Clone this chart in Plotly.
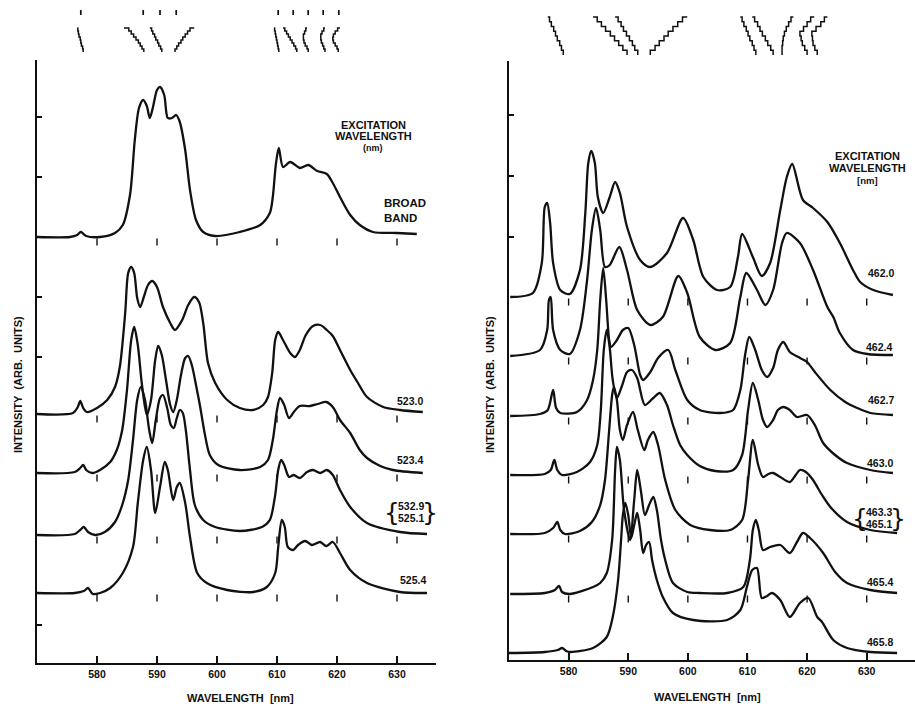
import plotly.graph_objects as go

W, H = 915, 708
FONT = "Liberation Sans"

# ---------------- shared scale values ----------------
axis_ticks_nm = [580, 590, 600, 610, 620, 630]
mark_nm = [580, 590, 600, 610, 620, 630]          # small wavelength marks under each trace
left_ytick_vals = [38, 306, 366, 426, 486, 546]
right_ytick_vals = [423, 484, 545]

# ---------------- LEFT PANEL (intensity, arb. units) ----------------
l_broad_nm = [570.0, 575.5, 576.7, 577.3, 578.2, 580.5, 583.0, 584.3, 585.5, 586.3,
              587.0, 587.7, 588.3, 588.8, 589.3, 590.0, 590.5, 591.2, 591.8, 592.5,
              593.2, 593.8, 594.7, 595.5, 596.5, 597.7, 599.7, 603.8, 607.2, 608.8,
              609.3, 609.8, 610.3, 611.0, 612.2, 613.8, 615.2, 616.7, 618.3, 619.3,
              620.5, 622.2, 623.8, 626.0, 630.0, 633.3]
l_broad_int = [426, 426, 428, 431, 427, 426, 430, 438, 468, 523,
               555, 563, 557, 545, 555, 573, 576, 568, 545, 545,
               548, 541, 513, 473, 443, 431, 427, 431, 438, 450,
               466, 498, 515, 496, 501, 495, 498, 492, 489, 480,
               466, 448, 438, 431, 430, 429]

l_5230_nm = [570.0, 576.0, 576.8, 577.2, 577.7, 578.3, 580.0, 581.7, 583.0, 583.8,
             584.7, 585.2, 585.7, 586.2, 586.7, 587.2, 587.8, 588.5, 589.2, 590.0,
             591.0, 592.2, 593.0, 594.2, 595.2, 596.2, 597.0, 597.7, 598.5, 599.7,
             601.7, 603.8, 606.0, 607.7, 608.5, 609.2, 609.7, 610.2, 611.0, 612.2,
             613.0, 613.8, 614.8, 616.0, 617.2, 618.3, 619.3, 620.5, 622.2, 623.5,
             625.0, 627.7, 630.5, 634.3]
l_5230_int = [249, 250, 256, 262, 255, 251, 255, 263, 276, 296,
              350, 390, 396, 390, 365, 356, 366, 378, 382, 376,
              356, 340, 333, 343, 358, 366, 361, 340, 300, 280,
              263, 255, 253, 258, 266, 290, 323, 331, 323, 310,
              306, 313, 328, 337, 338, 333, 327, 313, 293, 280,
              266, 256, 253, 251]

l_5234_nm = [570.0, 576.3, 577.2, 577.7, 578.2, 579.2, 580.5, 582.2, 583.3, 584.2,
             585.0, 585.7, 586.2, 586.8, 587.5, 588.3, 589.0, 589.7, 590.2, 590.8,
             591.5, 592.2, 592.7, 593.3, 594.0, 594.7, 595.2, 595.8, 596.5, 597.2,
             598.0, 598.8, 600.2, 603.8, 607.2, 608.5, 609.3, 610.0, 610.5, 611.2,
             612.0, 612.8, 613.8, 615.5, 616.8, 618.2, 619.3, 620.5, 622.2, 623.8,
             625.0, 627.2, 629.3, 634.3]
l_5234_int = [190, 191, 195, 198, 193, 190, 193, 201, 213, 233,
              273, 323, 336, 318, 278, 248, 263, 303, 317, 308,
              283, 258, 251, 263, 288, 305, 307, 298, 278, 256,
              228, 208, 198, 193, 196, 203, 223, 253, 265, 258,
              245, 251, 257, 257, 259, 261, 256, 243, 230, 213,
              205, 197, 193, 190]

l_5329_nm = [570.0, 576.3, 577.2, 577.8, 578.5, 579.7, 581.3, 583.0, 584.2, 585.2,
             586.0, 586.7, 587.3, 588.0, 588.7, 589.2, 589.8, 590.5, 591.0, 591.7,
             592.3, 592.8, 593.3, 593.8, 594.3, 594.8, 595.5, 596.3, 597.7, 599.7,
             603.8, 607.5, 608.8, 609.7, 610.2, 610.7, 611.2, 612.0, 612.8, 613.8,
             615.0, 616.0, 617.2, 618.3, 619.3, 620.5, 622.2, 625.0, 630.5, 635.0]
l_5329_int = [128, 129, 133, 136, 131, 128, 131, 141, 158, 183,
              223, 263, 276, 263, 233, 220, 243, 265, 268, 255,
              238, 235, 245, 253, 250, 233, 193, 158, 143, 136,
              132, 136, 143, 168, 193, 203, 198, 186, 188, 185,
              191, 193, 190, 193, 188, 173, 156, 140, 131, 129]

l_5254_nm = [570.0, 576.3, 577.8, 578.5, 579.3, 580.5, 582.2, 584.3, 586.0, 586.8,
             587.7, 588.3, 589.0, 589.7, 590.5, 591.3, 591.8, 592.7, 593.3, 593.8,
             594.7, 595.5, 596.7, 598.3, 601.7, 606.0, 608.3, 609.7, 610.2, 610.8,
             611.3, 611.8, 612.7, 613.5, 614.7, 615.8, 617.2, 618.2, 619.3, 620.5,
             622.2, 625.0, 630.5, 635.0]
l_5254_int = [70, 70, 72, 75, 69, 70, 75, 90, 116, 160,
              203, 216, 193, 150, 176, 201, 193, 163, 176, 180,
              160, 126, 90, 80, 73, 71, 76, 90, 116, 143,
              136, 116, 113, 118, 122, 118, 121, 117, 121, 110,
              93, 80, 71, 70]

# ---------------- RIGHT PANEL ----------------
r_4620_nm = [570.2, 574.0, 575.5, 576.0, 576.4, 576.9, 577.4, 578.6, 580.2, 581.9,
             582.8, 583.3, 583.8, 584.4, 584.9, 585.8, 586.9, 587.8, 588.6, 589.8,
             592.0, 593.7, 596.5, 599.2, 600.9, 602.6, 604.9, 607.1, 608.4, 609.1,
             610.9, 612.4, 613.8, 615.5, 616.6, 617.5, 619.3, 621.0, 623.4, 625.5,
             627.7, 628.9, 631.1, 634.4]
r_4620_int = [363, 367, 397, 453, 457, 437, 397, 370, 366, 390,
              447, 497, 509, 497, 463, 447, 463, 478, 467, 433,
              400, 393, 407, 442, 420, 383, 370, 373, 403, 426,
              403, 384, 397, 450, 483, 496, 460, 452, 438, 417,
              390, 378, 370, 365]

r_4624_nm = [570.2, 575.2, 576.4, 576.7, 577.0, 577.4, 578.6, 580.2, 581.9, 583.1,
             583.9, 584.6, 585.3, 586.1, 586.9, 588.5, 589.8, 591.5, 593.7, 595.8,
             598.4, 599.9, 602.0, 604.6, 607.1, 608.8, 609.8, 611.6, 613.0, 614.3,
             615.8, 616.6, 618.8, 621.0, 623.4, 624.4, 625.5, 627.7, 630.1, 634.4]
r_4624_int = [304, 310, 330, 360, 363, 330, 310, 306, 330, 380,
              430, 452, 430, 393, 395, 413, 390, 350, 335, 343,
              384, 367, 323, 310, 317, 363, 387, 370, 355, 370,
              417, 427, 417, 390, 353, 343, 327, 310, 306, 305]

r_4627_nm = [570.2, 575.2, 576.5, 577.4, 577.9, 578.6, 581.4, 583.1, 584.1, 584.8,
             585.3, 585.8, 586.3, 586.8, 587.1, 588.1, 589.1, 590.0, 591.0, 592.0,
             592.5, 593.7, 595.0, 596.7, 597.9, 599.9, 602.0, 605.4, 607.6, 608.8,
             609.6, 610.3, 611.3, 612.4, 613.3, 614.3, 615.1, 616.0, 617.1, 618.8,
             620.0, 621.3, 623.9, 626.4, 628.4, 630.6, 634.4]
r_4627_int = [244, 246, 250, 270, 252, 247, 248, 260, 280, 310,
              360, 392, 360, 320, 313, 320, 330, 332, 315, 285,
              280, 288, 302, 310, 290, 260, 250, 247, 250, 270,
              305, 323, 310, 290, 283, 292, 310, 318, 308, 302,
              298, 288, 270, 258, 252, 247, 245]

r_4630_nm = [570.2, 576.0, 577.0, 577.6, 578.1, 578.9, 581.4, 583.6, 584.8, 585.4,
             585.9, 586.4, 586.9, 587.4, 588.1, 589.0, 589.8, 590.6, 591.5, 592.8,
             594.2, 595.3, 596.5, 597.5, 598.7, 599.9, 602.0, 604.6, 607.6, 609.1,
             610.1, 610.9, 611.8, 612.6, 613.3, 614.3, 615.1, 616.0, 617.1, 618.3,
             620.0, 621.3, 622.7, 624.7, 626.7, 630.6, 634.4]
r_4630_int = [185, 186, 190, 200, 190, 185, 188, 198, 215, 250,
              310, 330, 312, 280, 262, 275, 288, 290, 282, 255,
              262, 267, 255, 235, 215, 205, 194, 189, 190, 205,
              250, 277, 260, 240, 233, 240, 250, 253, 250, 243,
              245, 235, 217, 205, 197, 190, 187]

r_4633_nm = [570.2, 576.0, 577.4, 578.1, 578.6, 579.4, 581.9, 583.9, 585.3, 586.1,
             586.8, 587.3, 587.6, 588.1, 588.6, 589.1, 589.8, 590.8, 591.6, 592.7,
             593.3, 594.2, 595.0, 596.2, 597.9, 600.4, 603.7, 607.1, 609.1, 610.1,
             610.9, 611.8, 612.6, 613.5, 614.3, 615.5, 617.1, 618.8, 619.8, 621.0,
             622.5, 623.9, 626.7, 630.6, 635.1]
r_4633_int = [126, 127, 132, 138, 130, 126, 129, 138, 155, 180,
              230, 265, 273, 260, 230, 220, 235, 248, 230, 210,
              220, 228, 215, 180, 150, 135, 130, 130, 140, 180,
              220, 195, 183, 186, 187, 183, 178, 190, 188, 180,
              165, 153, 138, 130, 127]

r_4654_nm = [570.2, 576.0, 577.7, 578.4, 578.9, 580.2, 584.1, 585.3, 586.4, 587.3,
             587.8, 588.1, 588.6, 589.3, 590.3, 591.0, 591.5, 592.1, 592.8, 593.5,
             594.2, 594.8, 595.5, 596.2, 597.5, 599.9, 602.0, 606.6, 609.3, 610.4,
             610.9, 611.4, 611.9, 612.6, 613.8, 615.5, 617.1, 618.3, 619.3, 620.5,
             622.7, 624.7, 626.7, 630.6, 635.1]
r_4654_int = [66, 67, 70, 74, 68, 66, 73, 77, 87, 120,
              190, 213, 200, 150, 120, 160, 190, 170, 145, 155,
              163, 150, 120, 100, 77, 68, 67, 67, 73, 100,
              130, 140, 130, 110, 113, 115, 107, 118, 127, 122,
              107, 88, 77, 70, 67]

r_4658_nm = [570.0, 576.0, 578.2, 578.9, 579.6, 580.2, 584.1, 586.4, 587.4, 588.3,
             588.8, 589.1, 589.5, 590.0, 590.5, 591.0, 591.5, 592.0, 592.5, 593.0,
             593.5, 594.0, 594.8, 595.8, 597.5, 600.9, 606.6, 608.8, 609.9, 610.8,
             611.6, 612.4, 613.3, 614.1, 615.5, 617.1, 618.8, 620.2, 621.7, 622.5,
             624.4, 626.7, 630.6, 635.1]
r_4658_int = [7, 8, 10, 12, 9, 8, 12, 23, 43, 80,
              120, 145, 157, 145, 122, 135, 147, 130, 107, 115,
              118, 100, 80, 63, 47, 40, 40, 50, 73, 90,
              92, 62, 64, 67, 60, 43, 57, 62, 43, 38,
              20, 12, 8, 7]

# ---------------- labels ----------------
left_labels = ["523.0", "523.4", ("532.9", "525.1"), "525.4"]
right_labels = ["462.0", "462.4", "462.7", "463.0", ("463.3", "465.1"), "465.4", "465.8"]

# ---------------- line-position tracks above the panels (nm, top -> bottom) ----------------
left_tracks_nm = [
    [576.7, 576.8, 576.9, 577.0, 577.2, 577.3, 577.4, 577.6, 577.7],
    [584.5, 585.3, 585.7, 586.1, 586.5, 586.9, 587.2, 587.5, 587.8],
    [588.8, 589.1, 589.3, 589.6, 589.8, 590.1, 590.3, 590.6, 590.8],
    [596.2, 595.5, 595.1, 594.7, 594.3, 594.0, 593.6, 593.3, 593.0],
    [609.5, 609.6, 609.7, 609.8, 609.9, 610.0, 610.1, 610.2, 610.3],
    [611.0, 611.3, 611.6, 611.9, 612.2, 612.5, 612.8, 613.1, 613.3],
    [615.0, 614.8, 614.6, 614.4, 614.4, 614.5, 614.7, 615.0, 615.2],
    [618.0, 617.8, 617.5, 617.3, 617.3, 617.4, 617.6, 617.8, 618.0],
    [620.5, 620.1, 619.7, 619.4, 619.3, 619.4, 619.7, 620.0, 620.2],
]
left_top_marks_nm = [577.3, 587.7, 590.5, 593.2, 610.2, 612.7, 615.2, 617.7, 620.3]
right_tracks_nm = [
    [576.5, 576.8, 577.1, 577.5, 577.8, 578.1, 578.5, 578.8, 579.1],
    [584.1, 584.8, 585.5, 586.2, 587.0, 587.7, 588.4, 589.1, 589.8],
    [587.8, 588.3, 588.8, 589.2, 589.7, 590.2, 590.7, 591.1, 591.6],
    [599.9, 599.1, 598.3, 597.5, 596.7, 596.0, 595.2, 594.5, 593.7],
    [608.8, 609.1, 609.4, 609.8, 610.1, 610.4, 610.8, 611.1, 611.4],
    [610.8, 611.2, 611.7, 612.1, 612.5, 613.0, 613.4, 613.9, 614.3],
    [617.7, 617.3, 616.9, 616.5, 616.2, 616.0, 615.9, 615.8, 615.8],
    [621.2, 620.6, 620.0, 619.4, 618.8, 619.0, 619.2, 619.6, 620.0],
    [623.4, 622.9, 622.3, 621.5, 620.8, 620.9, 621.0, 621.3, 621.7],
]

left_spectra = [(l_broad_nm, l_broad_int), (l_5230_nm, l_5230_int), (l_5234_nm, l_5234_int),
                (l_5329_nm, l_5329_int), (l_5254_nm, l_5254_int)]
right_spectra = [(r_4620_nm, r_4620_int), (r_4624_nm, r_4624_int), (r_4627_nm, r_4627_int),
                 (r_4630_nm, r_4630_int), (r_4633_nm, r_4633_int), (r_4654_nm, r_4654_int),
                 (r_4658_nm, r_4658_int)]


def xp(p):
    return p / W


def yp(p):
    return 1 - p / H


fig = go.Figure()
INK = "#111111"


def add_panel(spectra, xa, ya):
    for nm, inten in spectra:
        fig.add_trace(go.Scatter(x=nm, y=inten, mode="lines", xaxis=xa, yaxis=ya,
                                 line=dict(color=INK, width=2.3, shape="spline", smoothing=0.8),
                                 hoverinfo="skip", showlegend=False))
    xs, ys = [], []
    for nm, inten in spectra:
        b = inten[0]
        for m in mark_nm:
            xs += [m, m, None]
            ys += [b - 1.5, b - 8.5, None]
    fig.add_trace(go.Scatter(x=xs, y=ys, mode="lines", xaxis=xa, yaxis=ya,
                             line=dict(color=INK, width=1.4), hoverinfo="skip", showlegend=False))


def add_tracks(tracks, xa, ya, y_top, y_bot):
    n = len(tracks[0])
    levels = [y_top + (y_bot - y_top) * i / (n - 1) for i in range(n)]
    for tr in tracks:
        fig.add_trace(go.Scatter(x=tr, y=levels, mode="lines", xaxis=xa, yaxis=ya,
                                 line=dict(color=INK, width=1.5, shape="hv"),
                                 hoverinfo="skip", showlegend=False))


add_panel(left_spectra, "x", "y")
add_panel(right_spectra, "x2", "y2")
# overlay coordinates: 1 unit = 1 px, 0 at pixel row 58
add_tracks(left_tracks_nm, "x3", "y3", 58 - 28, 58 - 52)
add_tracks(right_tracks_nm, "x4", "y4", 58 - 17, 58 - 55)
mx, my = [], []
for m in left_top_marks_nm:
    mx += [m, m, None]
    my += [58 - 10, 58 - 15, None]
fig.add_trace(go.Scatter(x=mx, y=my, mode="lines", xaxis="x3", yaxis="y3",
                         line=dict(color=INK, width=1.7), hoverinfo="skip", showlegend=False))

tickfont = dict(family=FONT, size=10.5, color=INK, weight="bold")
xbase = dict(showline=True, linecolor=INK, linewidth=2, ticks="inside", ticklen=7, tickwidth=1.6,
             tickcolor=INK, tickvals=axis_ticks_nm, ticktext=[str(v) for v in axis_ticks_nm],
             tickfont=tickfont, showgrid=False, zeroline=False)
ybase = dict(showline=True, linecolor=INK, linewidth=2, ticks="inside", ticklen=5, tickwidth=1.6,
             tickcolor=INK, showticklabels=False, showgrid=False, zeroline=False)

fig.update_layout(
    width=W, height=H, margin=dict(l=0, r=0, t=0, b=0),
    paper_bgcolor="white", plot_bgcolor="rgba(0,0,0,0)",
    xaxis=dict(**xbase, domain=[xp(37), xp(436)], range=[570, 636.5], anchor="y"),
    yaxis=dict(**ybase, domain=[yp(663), yp(60)], range=[0, 603], tickvals=left_ytick_vals, anchor="x"),
    xaxis2=dict(**xbase, domain=[xp(509), 1.0], range=[570, 638.1], anchor="y2"),
    yaxis2=dict(**ybase, domain=[yp(660), yp(61)], range=[0, 599], tickvals=right_ytick_vals, anchor="x2"),
    xaxis3=dict(domain=[xp(37), xp(436)], range=[570, 636.5], visible=False, anchor="y3"),
    yaxis3=dict(domain=[yp(58), yp(5)], range=[0, 53], visible=False, anchor="x3"),
    xaxis4=dict(domain=[xp(509), 1.0], range=[570, 638.1], visible=False, anchor="y4"),
    yaxis4=dict(domain=[yp(58), yp(5)], range=[0, 53], visible=False, anchor="x4"),
)


def note(text, px, py, size=10, angle=0, xanchor="center", yanchor="middle", family=FONT, weight="bold"):
    fig.add_annotation(text=text, x=xp(px), y=yp(py), xref="paper", yref="paper",
                       showarrow=False, textangle=angle, xanchor=xanchor, yanchor=yanchor,
                       font=dict(family=family, size=size, color=INK, weight=weight))


# axis titles
note("WAVELENGTH  [nm]", 240, 698, size=11)
note("WAVELENGTH  [nm]", 707, 697, size=11)
note("INTENSITY  (ARB.  UNITS)", 18, 385, size=11, angle=-90)
note("INTENSITY  (ARB.  UNITS)", 490, 385, size=11, angle=-90)

# headings
note("EXCITATION", 373, 125, size=11)
note("WAVELENGTH", 373, 136, size=11)
note("(nm)", 373, 148, size=9)
note("BROAD", 382, 203, size=11.5, xanchor="left")
note("BAND", 382, 218, size=11.5, xanchor="left")
note("EXCITATION", 867, 156, size=11)
note("WAVELENGTH", 867, 168, size=11)
note("[nm]", 867, 180, size=9.5)


def place_labels(labels, positions):
    for lab, (px, py) in zip(labels, positions):
        if isinstance(lab, tuple):
            note(lab[0], px, py - 6, size=10.5)
            note(lab[1], px, py + 6, size=10.5)
            note("{", px - 19, py, size=25, family="DejaVu Sans", weight="normal")
            note("}", px + 19, py, size=25, family="DejaVu Sans", weight="normal")
        else:
            note(lab, px, py, size=10.5)


place_labels(left_labels, [(410, 401), (410, 460), (411, 512), (413, 580)])
place_labels(right_labels, [(881, 273), (879, 347), (881, 400), (880, 463), (879, 518), (880, 582), (880, 642)])

fig.write_html("out.html", config={"displayModeBar": False},
               post_script="document.body.style.margin='0';")
